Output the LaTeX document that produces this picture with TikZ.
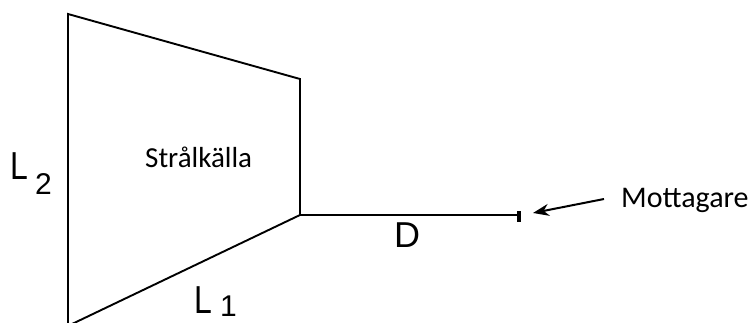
\documentclass[tikz,border=0pt]{standalone}
\usepackage{fontspec}
\setmainfont{Carlito}
\newfontfamily\arialf{Liberation Sans}
\usetikzlibrary{arrows.meta}
\begin{document}
\begin{tikzpicture}[x=1pt,y=-1pt,
  edge/.style={line width=1.9pt,line cap=round,line join=miter},
  lbl/.style={inner sep=0pt,anchor=base west,font=\arialf\fontsize{39}{39}\selectfont,xscale=0.82},
  sub/.style={inner sep=0pt,anchor=base west,font=\arialf\fontsize{30}{30}\selectfont},
  txt/.style={inner sep=0pt,anchor=base west}]
\useasboundingbox (0,0) rectangle (753,323);
% corners
\coordinate (tl) at (68,14);
\coordinate (tr) at (300,79);
\coordinate (br) at (300,215);
\coordinate (bl) at (72,324);
\coordinate (bll) at (68,324);
\coordinate (rx) at (519,215);
\coordinate (tip) at (533,213);
% trapezoid
\draw[edge] (bll) -- (tl) -- (tr) -- (br) -- (bl);
% distance line
\draw[edge] (br) -- (rx);
\fill (517,211) rectangle (521,222);
% labels
\node[txt,font=\fontsize{29}{29}\selectfont] (src) at (145,168) {Strålkälla};
\node[lbl] (l2) at (10,180) {L};
\node[sub] (l2s) at (35,195) {2};
\node[lbl] (l1) at (194,314) {L};
\node[sub] (l1s) at (220,317) {1};
\node[txt,font=\arialf\fontsize{36}{36}\selectfont] (d) at (394,248) {D};
\node[txt,font=\fontsize{30}{30}\selectfont] (mot) at (621,208) {Mottagare};
\coordinate (tail) at (604,199);
\draw[line width=2pt,-{Stealth[length=16pt,width=12pt]}] (tail) -- (tip);
\end{tikzpicture}
\end{document}
